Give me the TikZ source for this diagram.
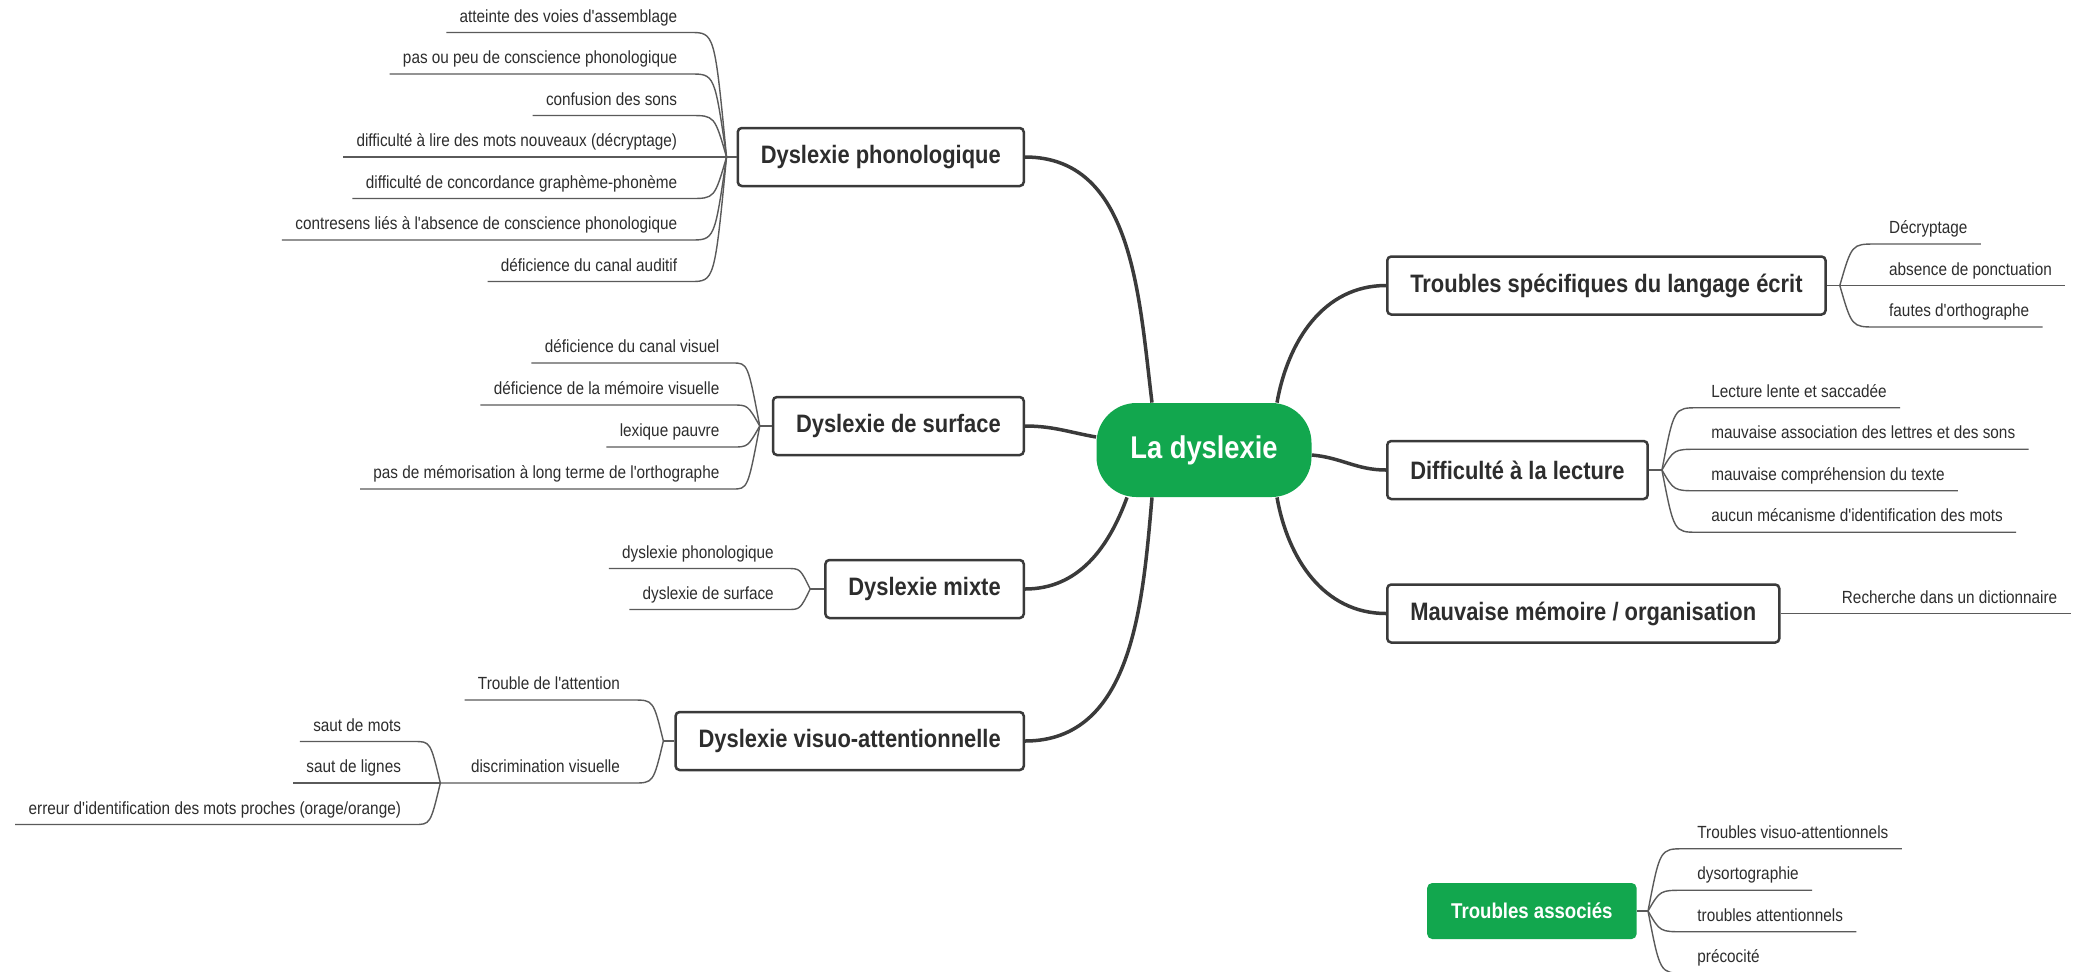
\documentclass[tikz,border=0pt]{standalone}
\usepackage{xcolor}
\usepackage{fontspec}
\setmainfont{Liberation Sans}
\newfontfamily\narrowfont[FakeStretch=0.87]{Liberation Sans}
\usepackage{tikz}
\usetikzlibrary{calc,positioning}
\definecolor{mapgreen}{RGB}{18,167,78}
\definecolor{linegray}{RGB}{58,58,58}
\definecolor{leafgray}{RGB}{90,90,90}
\definecolor{textgray}{RGB}{45,45,45}
\tikzset{
  rootnode/.style={fill=mapgreen, text=white, rounded corners=20pt, minimum width=107.5pt, minimum height=47pt, font=\narrowfont\bfseries\fontsize{15.7}{16}\selectfont},
  topicL/.style={draw=linegray, line width=1.25pt, fill=white, rounded corners=2pt, anchor=east, minimum height=29pt, inner xsep=11.5pt, text=textgray, font=\narrowfont\bfseries\fontsize{12.6}{13}\selectfont},
  topicR/.style={topicL, anchor=west},
  assoc/.style={fill=mapgreen, text=white, rounded corners=2.5pt, anchor=east, minimum height=28pt, inner xsep=12pt, font=\narrowfont\bfseries\fontsize{10.7}{11}\selectfont},
  leafL/.style={anchor=south east, inner xsep=6.5pt, inner ysep=3pt, text height=6.2pt, text depth=2pt, text=textgray, font=\narrowfont\fontsize{8.8}{9}\selectfont},
  leafR/.style={leafL, anchor=south west},
  branch/.style={draw=linegray, line width=1.75pt},
  twig/.style={draw=leafgray, line width=0.7pt}
}

\begin{document}
\begin{tikzpicture}[x=0.5pt, y=-0.5pt]
\fill[white] (0,0) rectangle (2078,971);
\useasboundingbox (0,0) rectangle (2078,971);

\node[rootnode] (root) at (1204,450) {La dyslexie};

\node[topicL] (b1) at (1025,157) {Dyslexie phonologique};
\node[topicL] (b2) at (1025,426) {Dyslexie de surface};
\node[topicL] (b3) at (1025,589) {Dyslexie mixte};
\node[topicL] (b4) at (1025,741) {Dyslexie visuo-attentionnelle};
\node[topicR] (r1) at (1386,285.5) {Troubles spécifiques du langage écrit};
\node[topicR] (r2) at (1386,470) {Difficulté à la lecture};
\node[topicR] (r3) at (1386,613.5) {Mauvaise mémoire / organisation};
\node[assoc] (ta) at (1637,911) {Troubles associés};

\draw[branch] ($(root.north)+(-52,0)$) to[out=97,in=0] (b1.east);
\draw[branch] ($(root.west)+(0,-13)$) to[out=170,in=0] (b2.east);
\draw[branch] ($(root.south)+(-77,0)$) to[out=-110,in=0] (b3.east);
\draw[branch] ($(root.south)+(-52,0)$) to[out=-95,in=0] (b4.east);
\draw[branch] ($(root.north)+(73,0)$) to[out=80,in=180] (r1.west);
\draw[branch] ($(root.east)+(0,5)$) to[out=-5,in=180] (r2.west);
\draw[branch] ($(root.south)+(73,0)$) to[out=-80,in=180] (r3.west);

% dyslexie phonologique
\coordinate (j1) at ($(b1.west)+(-10,0)$);
\draw[twig] (b1.west) -- (j1);
\foreach \txt [count=\i] in {atteinte des voies d'assemblage, pas ou peu de conscience phonologique, confusion des sons, difficulté à lire des mots nouveaux (décryptage), difficulté de concordance graphème-phonème, contresens liés à l'absence de conscience phonologique, déficience du canal auditif}{
  \node[leafL] (ph\i) at ($(j1)+(-36,{41.5*(\i-4)})$) {\txt};
  \draw[twig] (ph\i.south west) -- (ph\i.south east)
    .. controls ($(j1 |- ph\i.south east)+(-12,0)$) .. (j1);
}

% dyslexie de surface
\coordinate (j2) at ($(b2.west)+(-12,0)$);
\draw[twig] (b2.west) -- (j2);
\foreach \txt [count=\i] in {déficience du canal visuel, déficience de la mémoire visuelle, lexique pauvre, pas de mémorisation à long terme de l'orthographe}{
  \node[leafL] (su\i) at ($(j2)+(-27,{42*(\i-2.5)})$) {\txt};
  \draw[twig] (su\i.south west) -- (su\i.south east)
    .. controls ($(j2 |- su\i.south east)+(-12,0)$) .. (j2);
}

% dyslexie mixte
\coordinate (j3) at ($(b3.west)+(-14,0)$);
\draw[twig] (b3.west) -- (j3);
\foreach \txt [count=\i] in {dyslexie phonologique, dyslexie de surface}{
  \node[leafL] (mx\i) at ($(j3)+(-23,{41*(\i-1.5)})$) {\txt};
  \draw[twig] (mx\i.south west) -- (mx\i.south east)
    .. controls ($(j3 |- mx\i.south east)+(-10,0)$) .. (j3);
}

% dyslexie visuo-attentionnelle
\coordinate (j4) at ($(b4.west)+(-11,0)$);
\draw[twig] (b4.west) -- (j4);
\node[leafL] (va1) at ($(j4)+(-30,-41)$) {Trouble de l'attention};
\node[leafL] (va2) at ($(j4)+(-30,42)$) {discrimination visuelle};
\draw[twig] (va1.south west) -- (va1.south east)
  .. controls ($(j4 |- va1.south east)+(-10,0)$) .. (j4);
\coordinate (j5) at ($(va2.south east)+(-193,0)$);
\draw[twig] (j5) -- (va2.south east)
  .. controls ($(j4 |- va2.south east)+(-10,0)$) .. (j4);
\foreach \txt [count=\i] in {saut de mots, saut de lignes, erreur d'identification des mots proches (orage/orange)}{
  \node[leafL] (vd\i) at ($(j5)+(-26,{41.5*(\i-2)})$) {\txt};
  \draw[twig] (vd\i.south west) -- (vd\i.south east)
    .. controls ($(j5 |- vd\i.south east)+(-10,0)$) .. (j5);
}

% troubles du langage ecrit
\coordinate (j6) at ($(r1.east)+(13,0)$);
\draw[twig] (r1.east) -- (j6);
\foreach \txt [count=\i] in {Décryptage, absence de ponctuation, fautes d'orthographe}{
  \node[leafR] (ec\i) at ($(j6)+(36,{41.5*(\i-2)})$) {\txt};
  \draw[twig] (j6) .. controls ($(j6 |- ec\i.south west)+(12,0)$) .. (ec\i.south west)
    -- (ec\i.south east);
}

% difficulte a la lecture
\coordinate (j7) at ($(r2.east)+(13,0)$);
\draw[twig] (r2.east) -- (j7);
\foreach \txt [count=\i] in {Lecture lente et saccadée, mauvaise association des lettres et des sons, mauvaise compréhension du texte, aucun mécanisme d'identification des mots}{
  \node[leafR] (le\i) at ($(j7)+(36,{41.5*(\i-2.5)})$) {\txt};
  \draw[twig] (j7) .. controls ($(j7 |- le\i.south west)+(12,0)$) .. (le\i.south west)
    -- (le\i.south east);
}

% memoire
\node[leafR] (me1) at ($(r3.east)+(48,0)$) {Recherche dans un dictionnaire};
\draw[twig] (r3.east) -- (me1.south east);

% troubles associes
\coordinate (j8) at ($(ta.east)+(11,0)$);
\draw[twig] (ta.east) -- (j8);
\foreach \txt [count=\i] in {Troubles visuo-attentionnels, dysortographie, troubles attentionnels, précocité}{
  \node[leafR] (as\i) at ($(j8)+(36,{41.5*(\i-2.5)})$) {\txt};
  \draw[twig] (j8) .. controls ($(j8 |- as\i.south west)+(12,0)$) .. (as\i.south west)
    -- (as\i.south east);
}
\end{tikzpicture}
\end{document}
